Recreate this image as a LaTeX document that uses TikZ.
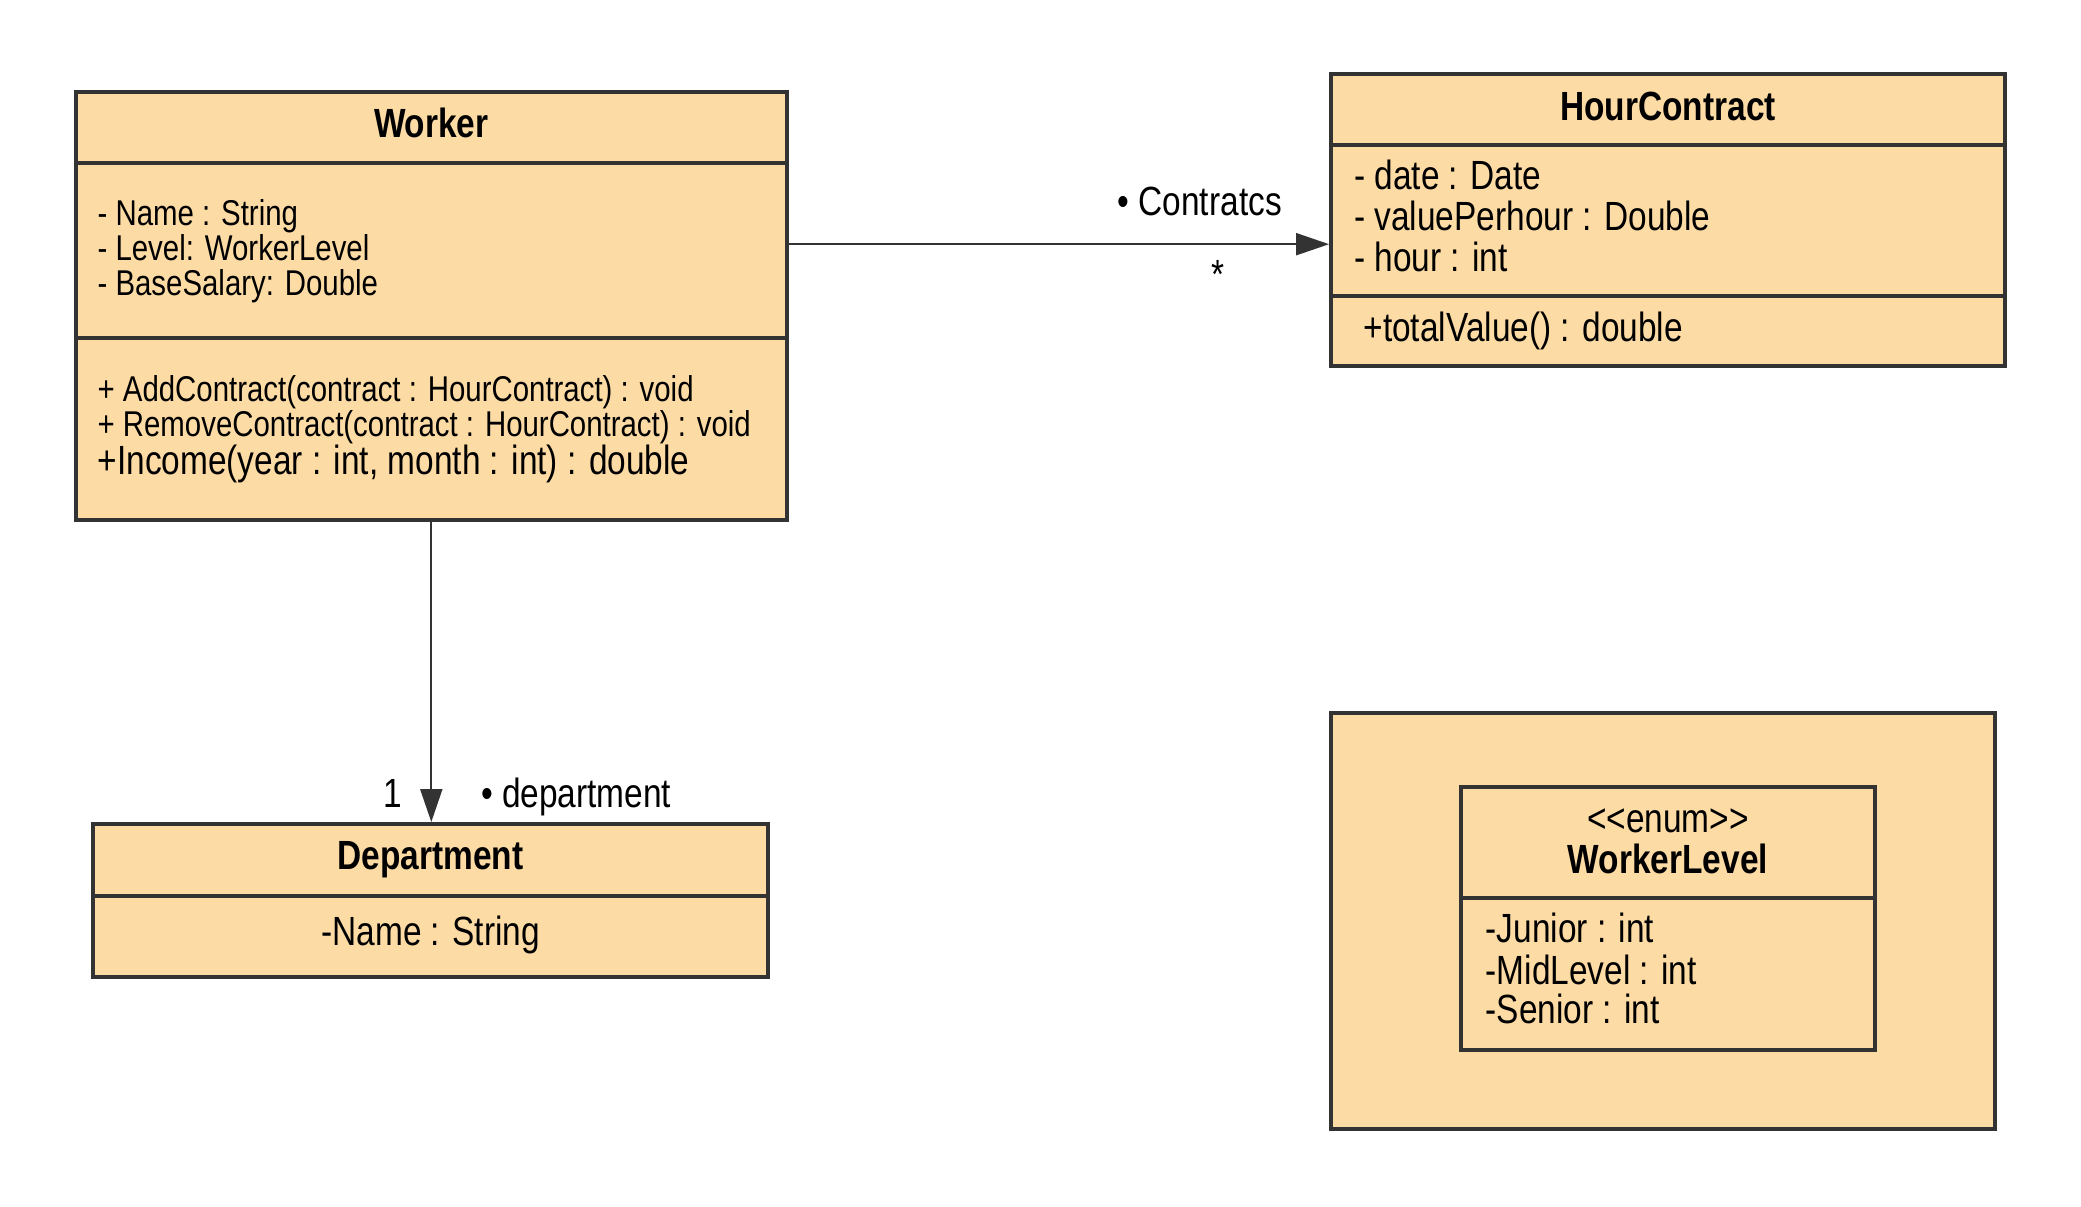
\documentclass[tikz,border=0pt]{standalone}
\usepackage{fontspec}
\setmainfont{Liberation Sans}[FakeStretch=0.82]
\usepackage{tikz}
\usetikzlibrary{arrows.meta, positioning, calc}
\definecolor{boxfill}{HTML}{FDDBA5}
\definecolor{boxline}{HTML}{333333}
\newcommand{\smalltxt}{\fontsize{10.2}{12}\selectfont}
\newcommand{\bigtxt}{\fontsize{11.6}{14}\selectfont}

\begin{document}
\begin{tikzpicture}[x=1cm,y=1cm,
    umlbox/.style={draw=boxline, fill=boxfill, line width=1.1pt, inner sep=0pt},
    divider/.style={draw=boxline, line width=1.1pt},
    assoc/.style={draw=boxline, line width=0.6pt, -{Triangle[length=3.3mm,width=2.2mm]}},
    label/.style={inner sep=0pt, text height=0.9em, text depth=0.1em},
    txt/.style={label, anchor=west}]
        \useasboundingbox (0,0) rectangle (20.81,12.06);
        % classes
        \node[umlbox, minimum width=7.113cm, minimum height=4.286cm] (worker) at (4.313,9.001) {};
        \node[umlbox, minimum width=6.74cm, minimum height=2.92cm] (hour) at (16.68,9.857) {};
        \node[umlbox, minimum width=6.754cm, minimum height=1.527cm] (dept) at (4.306,3.057) {};
        \node[umlbox, minimum width=6.635cm, minimum height=4.167cm] (frame) at (16.628,2.850) {};
        \node[umlbox, minimum width=4.14cm, minimum height=2.627cm] (level) at (16.68,2.877) {};
        \draw[divider] (worker.west |- 0,10.428) -- (worker.east |- 0,10.428);
        \draw[divider] (worker.west |- 0,8.676) -- (worker.east |- 0,8.676);
        \draw[divider] (hour.west |- 0,10.614) -- (hour.east |- 0,10.614);
        \draw[divider] (hour.west |- 0,9.101) -- (hour.east |- 0,9.101);
        \draw[divider] (dept.west |- 0,3.103) -- (dept.east |- 0,3.103);
        \draw[divider] (level.west |- 0,3.076) -- (level.east |- 0,3.076);
        % Worker
        \node[label] (workertitle) at (4.313,10.826) {\bigtxt\bfseries Worker};
        \node[txt] (wname) at (0.969,9.947) {\smalltxt - Name : String};
        \node[txt] (wlevel) at (0.969,9.592) {\smalltxt - Level: WorkerLevel};
        \node[txt] (wsalary) at (0.969,9.247) {\smalltxt - BaseSalary: Double};
        \node[txt] (wadd) at (0.969,8.185) {\smalltxt + AddContract(contract : HourContract) : void};
        \node[txt] (wremove) at (0.969,7.840) {\smalltxt + RemoveContract(contract : HourContract) : void};
        \node[txt] (wincome) at (0.969,7.455) {\bigtxt +Income(year : int, month : int) : double};
        % HourContract
        \node[label] (hourtitle) at (16.68,10.998) {\bigtxt\bfseries HourContract};
        \node[txt] (hdate) at (13.535,10.308) {\bigtxt - date : Date};
        \node[txt] (hvalue) at (13.535,9.897) {\bigtxt - valuePerhour : Double};
        \node[txt] (hhour) at (13.535,9.486) {\bigtxt - hour : int};
        \node[txt] (htotal) at (13.628,8.782) {\bigtxt +totalValue() : double};
        % Department
        \node[label] (depttitle) at (4.306,3.501) {\bigtxt\bfseries Department};
        \node[label] (dname) at (4.306,2.745) {\bigtxt -Name : String};
        % WorkerLevel
        \node[label] (stereo) at (16.68,3.872) {\bigtxt <\kern0pt<enum>\kern0pt>};
        \node[label] (leveltitle) at (16.68,3.461) {\bigtxt\bfseries WorkerLevel};
        \node[txt] (ljunior) at (14.85,2.771) {\bigtxt -Junior : int};
        \node[txt] (lmid) at (14.85,2.360) {\bigtxt -MidLevel : int};
        \node[txt] (lsenior) at (14.85,1.962) {\bigtxt -Senior : int};
        % associations
        \draw[assoc] (worker.east |- 0,9.618) -- (hour.west |- 0,9.618);
        \draw[assoc] (worker.south) -- (worker.south |- dept.north);
        \node[txt] (contracts) at (11.17,10.043) {\bigtxt • Contratcs};
        \node[label] (many) at (12.18,9.313) {\bigtxt *};
        \node[label] (one) at (3.928,4.125) {\bigtxt 1};
        \node[txt] (deptrole) at (4.804,4.125) {\bigtxt • department};
      \end{tikzpicture}
\end{document}
